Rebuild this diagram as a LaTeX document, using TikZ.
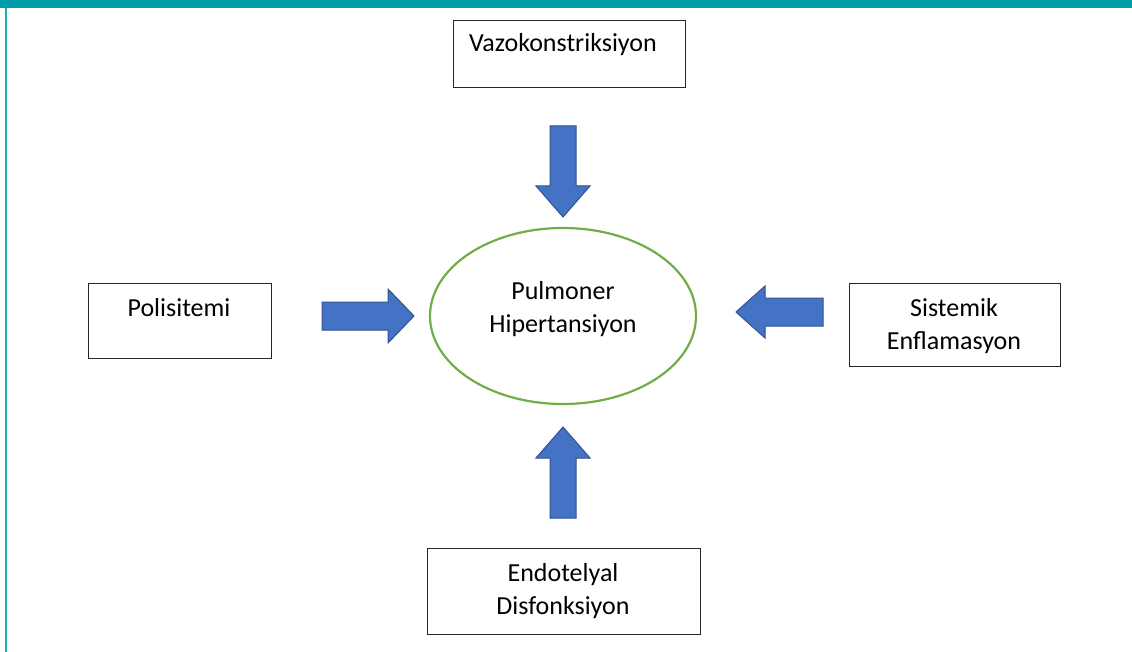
\documentclass[tikz,border=0pt]{standalone}
\usepackage{fontspec}
\setmainfont{Carlito}
\begin{document}
\definecolor{teal1}{RGB}{0,156,170}
\definecolor{teal2}{RGB}{30,170,185}
\definecolor{arrfill}{RGB}{68,114,196}
\definecolor{arrdraw}{RGB}{47,82,143}
\definecolor{ellg}{RGB}{112,173,71}
\begin{tikzpicture}[x=1pt,y=-1pt,
  box/.style={draw=black!85,line width=0.9pt,anchor=north west,inner sep=0pt},
  lbl/.style={font=\fontsize{26}{33}\selectfont,align=center,inner sep=0pt},
  blk/.style={fill=arrfill,draw=arrdraw,line width=1pt,line join=miter}]
\useasboundingbox (0,0) rectangle (1132,652);
\fill[teal1] (0,0) rectangle (1132,8);
\draw[teal2,line width=2pt] (5.5,8) -- (5.5,652);
% boxes
\node[box,minimum width=232pt,minimum height=67pt] (vbox) at (453,20) {};
\node[lbl] (vtxt) at (563,45) {Vazokonstriksiyon};
\node[box,minimum width=183pt,minimum height=75pt] (pbox) at (88,283) {};
\node[lbl] (ptxt) at (179,308) {Polisitemi};
\node[box,minimum width=211pt,minimum height=83pt] (sbox) at (849,283) {};
\node[lbl] (stxt) at (954,326) {Sistemik\\Enflamasyon};
\node[box,minimum width=273pt,minimum height=86pt] (ebox) at (427,548) {};
\node[lbl] (etxt) at (563,591) {Endotelyal\\Disfonksiyon};
% ellipse
\draw[ellg,line width=2.2pt] (563,316) ellipse [x radius=133, y radius=88];
\node[lbl] (htxt) at (563,309) {Pulmoner\\Hipertansiyon};
% block arrows
\draw[blk] (550,126) -- (576,126) -- (576,186) -- (590,186) -- (563,217) -- (536,186) -- (550,186) -- cycle;
\draw[blk] (550,518) -- (576,518) -- (576,458) -- (590,458) -- (563,427) -- (536,458) -- (550,458) -- cycle;
\draw[blk] (322,302) -- (388,302) -- (388,289) -- (414,316) -- (388,343) -- (388,330) -- (322,330) -- cycle;
\draw[blk] (823,298) -- (765,298) -- (765,286) -- (736,312) -- (765,338) -- (765,326) -- (823,326) -- cycle;
\end{tikzpicture}
\end{document}
